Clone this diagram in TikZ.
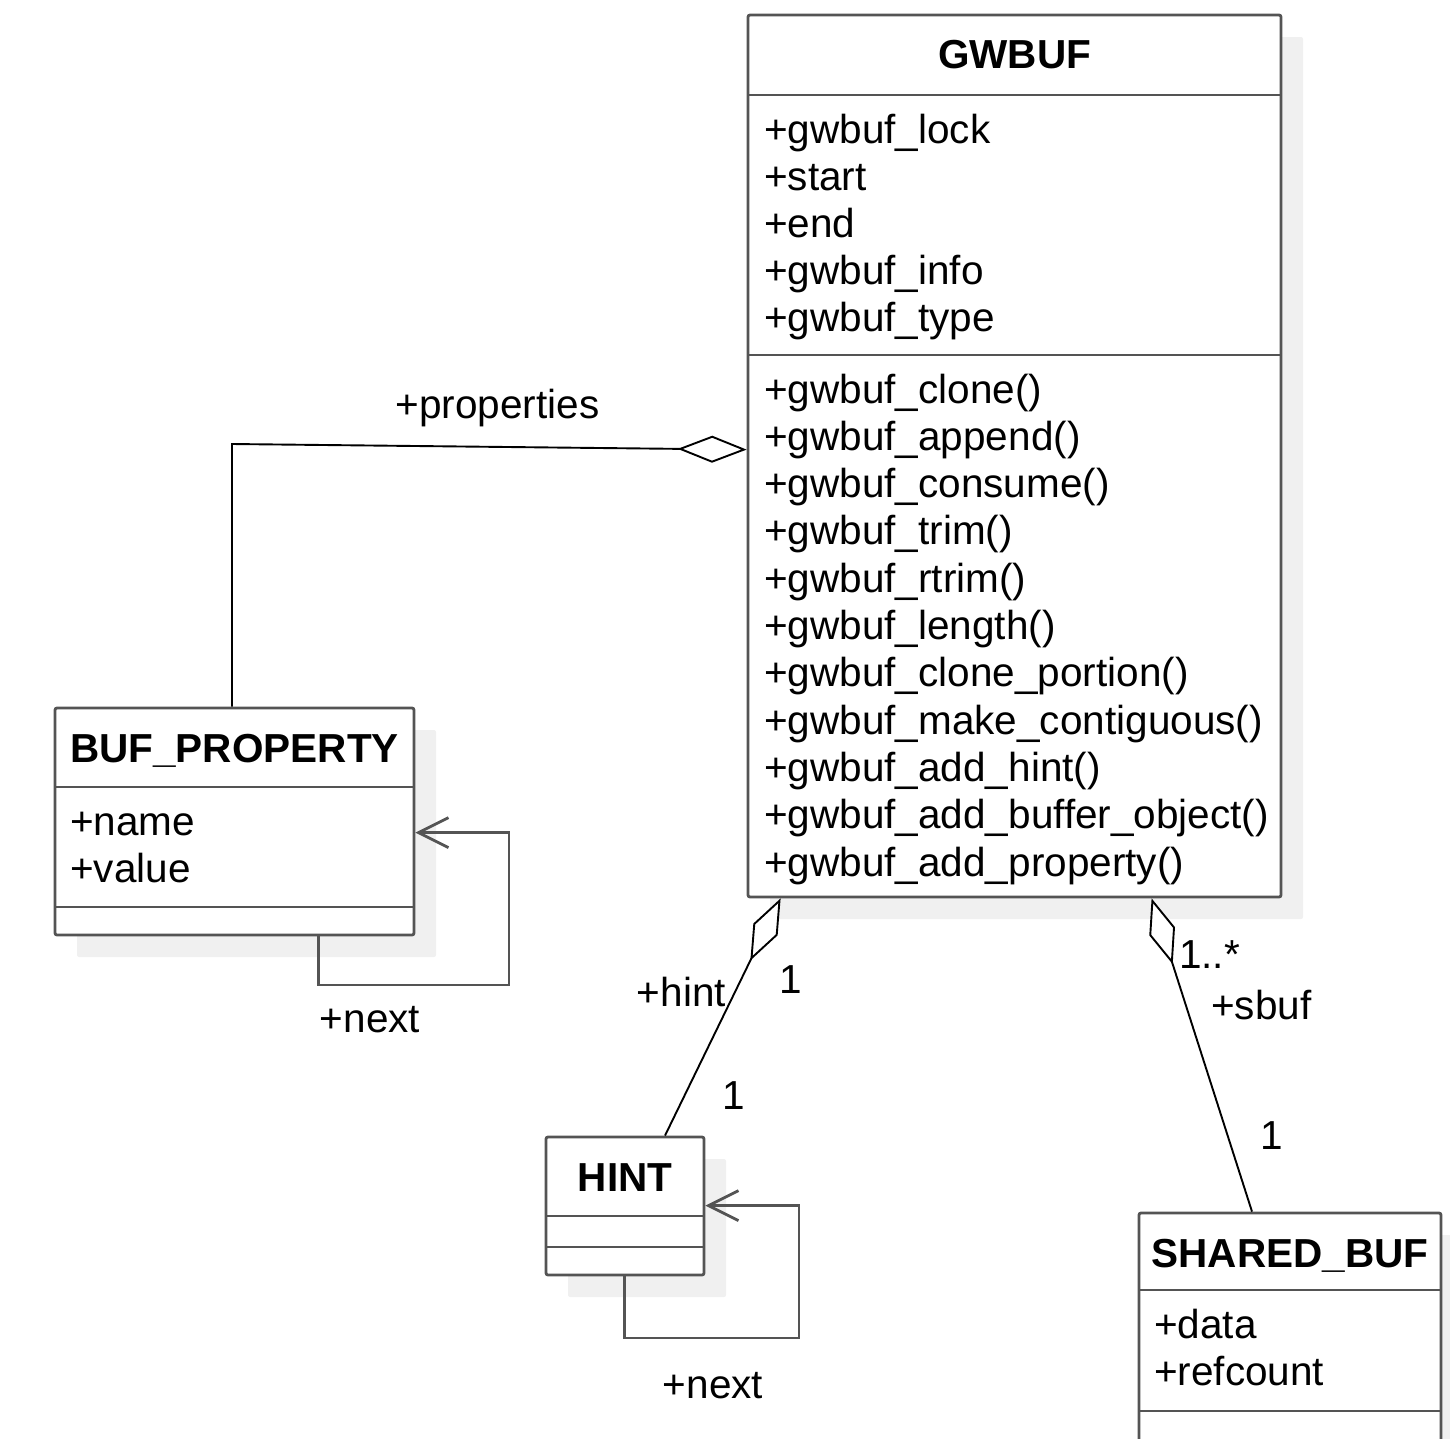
\documentclass[tikz,border=0pt]{standalone}
\usepackage{fontspec}
\setmainfont{Liberation Sans}
\usetikzlibrary{arrows.meta,calc,shadows}
\definecolor{boxline}{gray}{0.33}
\definecolor{shade}{gray}{0.94}
\begin{document}
\begin{tikzpicture}[x=1pt,y=-1pt,
  classbox/.style={draw=boxline, line width=2.8pt, rounded corners=2pt, fill=white,
    inner sep=0pt,
    general shadow={fill=shade, draw=none, shadow xshift=22pt, shadow yshift=-22pt}},
  divider/.style={draw=boxline, line width=2.8pt},
  title/.style={font=\fontsize{40.5pt}{47pt}\selectfont\bfseries, anchor=base, inner sep=0pt},
  member/.style={font=\fontsize{40.5pt}{47pt}\selectfont, anchor=base west, inner sep=0pt},
  lbl/.style={font=\fontsize{40.5pt}{47pt}\selectfont, inner sep=0pt},
  assoc/.style={draw=black, line width=1.9pt},
  agg/.style={assoc, -{Diamond[length=69pt, width=27pt, fill=white]}},
  selfref/.style={draw=boxline, line width=2.8pt, -{Straight Barb[length=30pt, width=30pt]}}
]
\path[use as bounding box] (0,0) rectangle (1450,1438);
\clip (0,0) rectangle (1450,1438);

% class boxes
\node[classbox, minimum width=533pt, minimum height=882pt] (gwbuf) at (1014.5,456) {};
\node[classbox, minimum width=359pt, minimum height=227pt] (bufprop) at (234.5,821.5) {};
\node[classbox, minimum width=158pt, minimum height=138pt] (hint) at (625,1206) {};
\node[classbox, minimum width=302pt, minimum height=257pt] (shared) at (1290,1341.5) {};

% compartment dividers
\draw[divider] (748,95) -- (1281,95);
\draw[divider] (748,355) -- (1281,355);
\draw[divider] (55,787) -- (414,787);
\draw[divider] (55,907) -- (414,907);
\draw[divider] (546,1216) -- (704,1216);
\draw[divider] (546,1247) -- (704,1247);
\draw[divider] (1139,1290) -- (1441,1290);
\draw[divider] (1139,1411) -- (1441,1411);

% class names
\node[title] (gwbuf-name) at (1014.5,68) {GWBUF};
\node[title] (bufprop-name) at (234.5,762) {BUF\_PROPERTY};
\node[title] (hint-name) at (625,1191) {HINT};
\node[title] (shared-name) at (1290,1267) {SHARED\_BUF};

% GWBUF attributes and operations
\foreach \m [count=\i] in {{+gwbuf\_lock},{+start},{+end},{+gwbuf\_info},{+gwbuf\_type}}
  \node[member] (gwbuf-a\i) at (764,{143+47*(\i-1)}) {\m};
\foreach \m [count=\i] in {{+gwbuf\_clone()},{+gwbuf\_append()},{+gwbuf\_consume()},
    {+gwbuf\_trim()},{+gwbuf\_rtrim()},{+gwbuf\_length()},{+gwbuf\_clone\_portion()},
    {+gwbuf\_make\_contiguous()},{+gwbuf\_add\_hint()},{+gwbuf\_add\_buffer\_object()},
    {+gwbuf\_add\_property()}}
  \node[member] (gwbuf-o\i) at (764,{403+47.3*(\i-1)}) {\m};

% BUF_PROPERTY and SHARED_BUF attributes
\node[member] (bufprop-a1) at (70,835) {+name};
\node[member] (bufprop-a2) at (70,882) {+value};
\node[member] (shared-a1) at (1154,1338) {+data};
\node[member] (shared-a2) at (1154,1385) {+refcount};

% aggregations
\coordinate (pbend) at (232,444);
\draw[agg] (bufprop.north -| pbend) -- (pbend) -- ($(gwbuf.north west)+(0,436)$);
\draw[agg] ($(hint.north)+(40,0)$) -- ($(gwbuf.south west)+(34,0)$);
\draw[agg] ($(shared.north)+(-38,0)$) -- ($(gwbuf.south west)+(405,0)$);

% self references
\coordinate (bploop) at (509,985);
\draw[selfref] ($(bufprop.south west)+(265,0)$) |- (bploop) |- ($(bufprop.north east)+(0,126)$);
\coordinate (hloop) at (799,1338);
\draw[selfref] ($(hint.south west)+(80,0)$) |- (hloop) |- ($(hint.north east)+(0,70)$);

% roles and multiplicities
\node[lbl, anchor=base] (prop-role) at (497.5,418) {+properties};
\node[lbl, anchor=base east] (hint-role) at (726,1006) {+hint};
\node[lbl, anchor=base west] (hint-m1) at (779,993) {1};
\node[lbl, anchor=base west] (hint-m2) at (722,1109) {1};
\node[lbl, anchor=base west] (sbuf-m1) at (1179,968) {1..*};
\node[lbl, anchor=base west] (sbuf-role) at (1211,1019) {+sbuf};
\node[lbl, anchor=base west] (sbuf-m2) at (1260,1149) {1};
\node[lbl, anchor=base] (bp-next) at (370,1032) {+next};
\node[lbl, anchor=base] (hint-next) at (713,1398) {+next};
\end{tikzpicture}
\end{document}
